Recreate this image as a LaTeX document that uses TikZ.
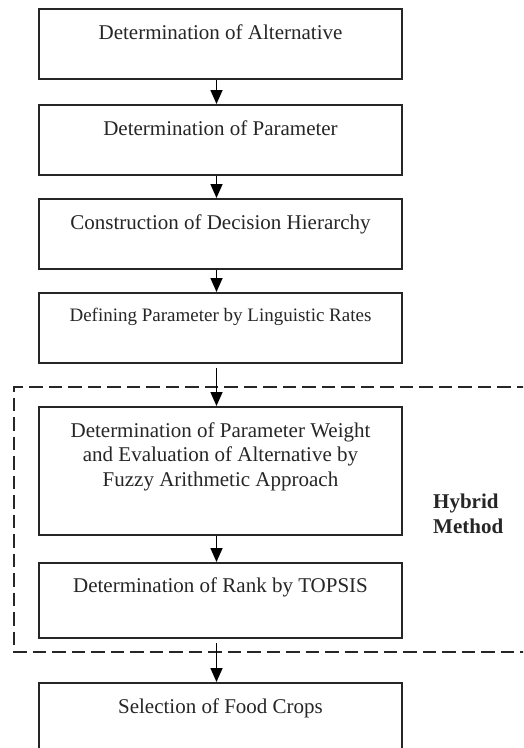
\documentclass[tikz,border=0pt]{standalone}
\usepackage{fontspec}
\setmainfont{Liberation Serif}
\usetikzlibrary{calc,arrows.meta}
\begin{document}
\begin{tikzpicture}[x=1pt,y=-1pt,
  box/.style={draw=black!85, line width=1.8pt, minimum width=363pt, anchor=north, inner sep=0pt},
  lbl/.style={font=\fontsize{21}{24.5}\selectfont, align=center, anchor=base, inner sep=0pt, text=black!85},
  small/.style={font=\fontsize{19}{23}\selectfont},
  arr/.style={-{Triangle[length=14pt,width=12pt]}, line width=1.6pt, draw=black},
  grp/.style={draw=black!85, line width=1.8pt, dash pattern=on 13.5pt off 6pt}]
\clip (0,0) rectangle (523,748);
\fill[white] (0,0) rectangle (523,748);
\coordinate (ax) at (216.5,0);
% boxes
\node[box, minimum height=70pt] (b1) at (220.5,8) {};
\node[box, minimum height=70pt] (b2) at (220.5,104) {};
\node[box, minimum height=70pt] (b3) at (220.5,198) {};
\node[box, minimum height=70pt] (b4) at (220.5,292) {};
\node[box, minimum height=128pt] (b5) at (220.5,406) {};
\node[box, minimum height=75pt] (b6) at (220.5,562) {};
\node[box, minimum height=90pt] (b7) at (220.5,682) {};
% texts
\node[lbl] (t1) at (220.5,39) {Determination of Alternative};
\node[lbl] (t2) at (220.5,135) {Determination of Parameter};
\node[lbl] (t3) at (220.5,229) {Construction of Decision Hierarchy};
\node[lbl, small] (t4) at (220.5,321) {Defining Parameter by Linguistic Rates};
\node[lbl] (t5) at (220.5,486) {Determination of Parameter Weight\\and Evaluation of Alternative by\\Fuzzy Arithmetic Approach};
\node[lbl] (t6) at (220.5,592) {Determination of Rank by TOPSIS};
\node[lbl] (t7) at (220.5,713) {Selection of Food Crops};
% group
\coordinate (g1) at (530,387);
\coordinate (g2) at (14,387);
\coordinate (g3) at (14,652);
\coordinate (g4) at (530,652);
\draw[grp] (g1) -- (g2) -- (g3) -- (g4);
\node[lbl, font=\fontsize{21}{25}\bfseries, align=left, anchor=base west] (hm) at (433,533) {Hybrid\\Method};
% arrows
\draw[arr] (b1.south -| ax) -- (b2.north -| ax);
\draw[arr] (b2.south -| ax) -- (b3.north -| ax);
\draw[arr] (b3.south -| ax) -- (b4.north -| ax);
\draw[arr] ($(b4.south -| ax)+(0,4)$) -- (b5.north -| ax);
\draw[arr] (b5.south -| ax) -- (b6.north -| ax);
\draw[arr] ($(b6.south -| ax)+(0,4)$) -- (b7.north -| ax);
\end{tikzpicture}
\end{document}
